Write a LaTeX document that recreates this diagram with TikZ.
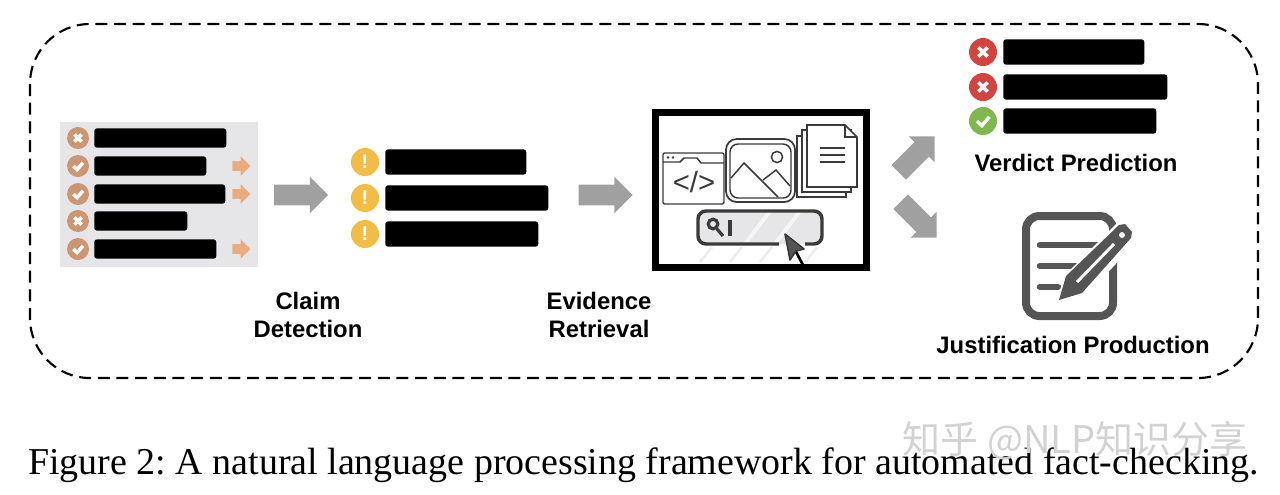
\documentclass[tikz,border=0pt]{standalone}
\usepackage{xcolor}
\usepackage{fontspec}
\usepackage{tikz}
\usetikzlibrary{shapes.arrows,patterns}
\setmainfont{Liberation Serif}
\setsansfont{Liberation Sans}
\newfontfamily\cjkfont{Noto Sans CJK SC}
\definecolor{flowgray}{HTML}{A0A0A0}
\definecolor{panelgray}{HTML}{E6E6E8}
\definecolor{mutedtan}{HTML}{CB9671}
\definecolor{softorange}{HTML}{E9AC80}
\definecolor{warnyellow}{HTML}{F2BC45}
\definecolor{badred}{HTML}{D2443F}
\definecolor{goodgreen}{HTML}{7FB84E}
\definecolor{notegray}{HTML}{555555}
\definecolor{iconink}{HTML}{3A3A3A}
\tikzset{
  textbar/.style={fill=black,rounded corners=2pt,inner sep=0pt,minimum height=#1},
  flowarrow/.style={single arrow,fill=flowgray,inner xsep=0pt,inner ysep=7.5pt,minimum height=40.5pt,minimum width=27pt,
    single arrow head extend=6pt,single arrow tip angle=90},
  minorarrow/.style={single arrow,fill=softorange,inner xsep=0pt,inner ysep=3.4pt,minimum height=13.5pt,minimum width=14.25pt,
    single arrow head extend=3.75pt,single arrow tip angle=90},
  stagelabel/.style={font=\sffamily\bfseries\fontsize{17.9}{21}\selectfont,align=center,inner sep=0pt},
  disc/.style={circle,fill=#1,inner sep=0pt},
  pics/crossmark/.style={code={
    \draw[white,line width=2.8pt] (-#1,-#1) -- (#1,#1) (-#1,#1) -- (#1,-#1);}},
  pics/tickmark/.style={code={
    \draw[white,line width=2.6pt] (-#1*1.3,0) -- (-#1*0.25,#1*1.0) -- (#1*1.4,-#1*0.9);}},
}
\begin{document}
\begin{tikzpicture}[x=0.75pt,y=-0.75pt]
  \useasboundingbox (0,0) rectangle (1280,494);
  % Dashed frame
  \draw[line width=1.6pt,dash pattern=on 9pt off 5pt,rounded corners=45pt] (30,24) rectangle (1258,378);
  % Claim list
  \node[fill=panelgray,minimum width=148.5pt,minimum height=109pt,inner sep=0pt] (panel) at (159,194.5) {};
  \foreach \y/\len/\kind in {138/132/crossmark,166/112/tickmark,194/131/tickmark,221/93/crossmark,249/122/tickmark} {
    \node[disc=mutedtan,minimum size=16.5pt] (claimicon\y) at (78,\y) {};
    \pic at (claimicon\y) {\kind=3.6};
    \node[textbar=14.5pt,minimum width=\len*0.75pt,anchor=west] (claimbar\y) at (94,\y) {};
  }
  \foreach \y in {166,194,249}
    \node[minorarrow] (minor\y) at (239,\y) {};
  % Detected claims
  \foreach \y/\len in {162/141,198/163,234/153} {
    \node[disc=warnyellow,minimum size=21pt] (warnicon\y) at (365,\y) {};
    \node[white,font=\sffamily\bfseries\fontsize{15}{15}\selectfont,inner sep=0pt] (warnmark\y) at (365,\y) {!};
    \node[textbar=19pt,minimum width=\len*0.75pt,anchor=west] (warnbar\y) at (385,\y) {};
  }
  % Flow arrows
  \node[flowarrow] (arrowclaim) at (296,195) {};
  \node[flowarrow] (arrowevidence) at (600.5,195) {};
  \node[flowarrow,minimum height=38pt,rotate=45] (arrowverdict) at (913,158) {};
  \node[flowarrow,minimum height=38pt,rotate=-45] (arrowjustify) at (915,216) {};
  % Retrieval box
  \node[draw=black,line width=5pt,minimum width=158pt,minimum height=116pt,inner sep=0pt] (retrieval) at (761,190) {};
  % Web window
  \draw[iconink,line width=1.1pt,rounded corners=1pt,fill=white] (663,153) rectangle (724,204);
  \draw[iconink,line width=1.1pt] (663,162) -- (680,162) -- (684,158) -- (697,158) -- (701,163) -- (724,163);
  \fill[iconink] (668,157.5) circle (1.1pt) (673,157.5) circle (1.1pt);
  \node[iconink,font=\sffamily\fontsize{22}{22}\selectfont,inner sep=0pt] (codemark) at (694,182) {</>};
  % Picture card
  \draw[iconink,line width=1.3pt,rounded corners=8pt,fill=white] (726,139) rectangle (795,202);
  \draw[iconink,line width=1.1pt,rounded corners=6pt] (730,144) rectangle (791,198);
  \draw[iconink,line width=1.1pt] (731,178) -- (744,163) -- (778,197) (763,180) -- (776,170) -- (790,186);
  \draw[iconink,line width=1.1pt] (777,157) circle (4.2pt);
  % Document stack
  \draw[iconink,line width=1.1pt,fill=white] (797,136) rectangle (846,197);
  \draw[iconink,line width=1.1pt,fill=white] (802,130) rectangle (851,192);
  \draw[iconink,line width=1.3pt,fill=white] (807,125) -- (845,125) -- (857,137) -- (857,187) -- (807,187) -- cycle;
  \draw[iconink,line width=1.1pt] (845,125) -- (845,137) -- (857,137);
  \draw[iconink,line width=1.3pt] (820,148) -- (845,148) (820,155) -- (845,155) (820,162) -- (845,162);
  % Search bar
  \fill[panelgray,rounded corners=5pt] (698,211) rectangle (822,244);
  \draw[white!60!panelgray,line width=3pt] (745,244) -- (770,211) (775,244) -- (800,211);
  \draw[panelgray!70,line width=2pt] (700,262) -- (712,247) (730,262) -- (742,247) (760,262) -- (772,247) (805,262) -- (817,247);
  \draw[iconink,line width=2.6pt,rounded corners=6pt] (779,244) -- (698,244) -- (698,211) -- (822,211) -- (822,244) -- (805,244);
  \draw[iconink,line width=2.4pt] (713,224) circle (3.6pt) (717,229) -- (723,236);
  \draw[iconink,line width=2.6pt] (730,220) -- (730,236);
  \draw[black,line width=2pt] (795,250) -- (803,265);
  \draw[iconink,line width=1.2pt,fill=notegray,line join=round] (785,234) -- (790,260) -- (796,251) -- (804,249) -- cycle;
  % Verdict list
  \foreach \y/\len/\tone/\kind in {52/141/badred/crossmark,87/164/badred/crossmark,121/153/goodgreen/tickmark} {
    \node[disc=\tone,minimum size=21pt] (verdicticon\y) at (983,\y) {};
    \pic at (verdicticon\y) {\kind=4.6};
    \node[textbar=19pt,minimum width=\len*0.75pt,anchor=west] (verdictbar\y) at (1003,\y) {};
  }
  % Note with pencil
  \draw[notegray,line width=6pt,rounded corners=10pt] (1026,216) rectangle (1113,316);
  \draw[notegray,line width=5pt,line cap=round] (1040,245) -- (1098,245) (1040,266) -- (1082,266) (1040,287) -- (1058,287);
  \fill[white] (1056,300) -- (1066,274) -- (1118,222) -- (1138,240) -- (1086,296) -- cycle;
  \fill[notegray,line join=round] (1059,300) -- (1066,276) -- (1119,225) -- (1125,224) -- (1132,232) -- (1131,238) -- (1082,293) -- cycle;
  \draw[white,line width=2.2pt] (1077,282) -- (1114,244);
  \fill[white] (1122,235) circle (2.2pt);
  % Stage labels
  \node[stagelabel] (claimlabel) at (308,315) {Claim\\Detection};
  \node[stagelabel] (evidencelabel) at (599,315) {Evidence\\Retrieval};
  \node[stagelabel] (verdictlabel) at (1076,163) {Verdict Prediction};
  \node[stagelabel] (justifylabel) at (1073,344.5) {Justification Production};
  % Caption with watermark
  \node[font=\frenchspacing\fontsize{28.46}{28}\selectfont,inner sep=0pt,anchor=mid west] (caption) at (28,471) {Figure 2: A natural language processing framework for automated fact-checking.};
  \node[gray!35,font=\cjkfont\fontsize{28.5}{28}\selectfont,inner sep=0pt] (watermark) at (1075,441) {知乎 @NLP知识分享};
\end{tikzpicture}
\end{document}
